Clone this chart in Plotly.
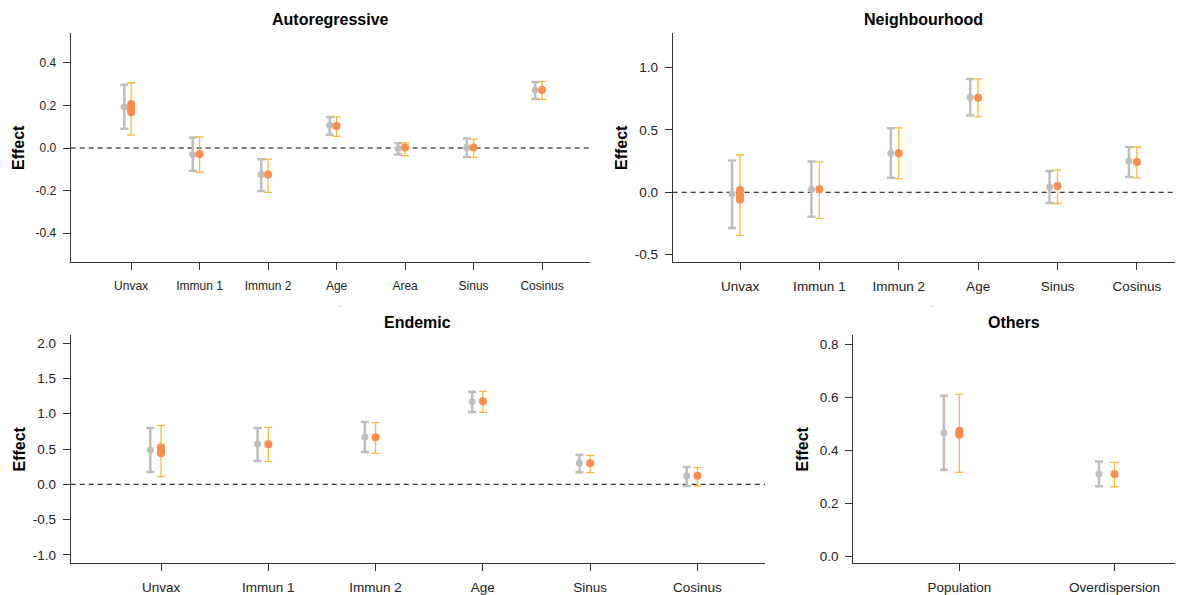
import plotly.graph_objects as go

W, H = 1187, 595

# ---------------- data ----------------
ar_cats = ["Unvax", "Immun 1", "Immun 2", "Age", "Area", "Sinus", "Cosinus"]
ar_gray_est = [0.193, -0.030, -0.125, 0.107, -0.002, 0.002, 0.273]
ar_gray_lo = [0.091, -0.107, -0.202, 0.063, -0.030, -0.042, 0.231]
ar_gray_hi = [0.298, 0.050, -0.053, 0.146, 0.022, 0.045, 0.311]
ar_or_est = [0.190, -0.028, -0.125, 0.104, 0.002, 0.002, 0.273]
ar_or_lo = [0.061, -0.114, -0.209, 0.055, -0.036, -0.044, 0.229]
ar_or_hi = [0.307, 0.052, -0.052, 0.147, 0.024, 0.042, 0.312]
ar_extra_cat = ["Unvax", "Unvax", "Unvax"]
ar_extra_val = [0.207, 0.176, 0.168]
ar_yticks = [-0.4, -0.2, 0.0, 0.2, 0.4]
ar_yticktext = ["-0.4", "-0.2", "0.0", "0.2", "0.4"]

nb_cats = ["Unvax", "Immun 1", "Immun 2", "Age", "Sinus", "Cosinus"]
nb_gray_est = [-0.014, 0.024, 0.313, 0.762, 0.043, 0.250]
nb_gray_lo = [-0.287, -0.196, 0.117, 0.615, -0.086, 0.123]
nb_gray_hi = [0.254, 0.246, 0.514, 0.909, 0.170, 0.363]
nb_or_est = [-0.020, 0.024, 0.313, 0.757, 0.050, 0.243]
nb_or_lo = [-0.345, -0.209, 0.107, 0.604, -0.090, 0.115]
nb_or_hi = [0.299, 0.241, 0.516, 0.909, 0.178, 0.363]
nb_extra_cat = ["Unvax", "Unvax", "Unvax"]
nb_extra_val = [0.018, -0.045, -0.060]
nb_yticks = [-0.5, 0.0, 0.5, 1.0]
nb_yticktext = ["-0.5", "0.0", "0.5", "1.0"]

en_cats = ["Unvax", "Immun 1", "Immun 2", "Age", "Sinus", "Cosinus"]
en_gray_est = [0.486, 0.571, 0.670, 1.170, 0.302, 0.118]
en_gray_lo = [0.174, 0.330, 0.457, 1.024, 0.170, -0.024]
en_gray_hi = [0.797, 0.797, 0.882, 1.312, 0.419, 0.245]
en_or_est = [0.480, 0.567, 0.666, 1.176, 0.297, 0.122]
en_or_lo = [0.108, 0.320, 0.439, 1.020, 0.164, -0.024]
en_or_hi = [0.836, 0.807, 0.873, 1.317, 0.411, 0.235]
en_extra_cat = ["Unvax", "Unvax"]
en_extra_val = [0.525, 0.440]
en_yticks = [-1.0, -0.5, 0.0, 0.5, 1.0, 1.5, 2.0]
en_yticktext = ["-1.0", "-0.5", "0.0", "0.5", "1.0", "1.5", "2.0"]

ot_cats = ["Population", "Overdispersion"]
ot_gray_est = [0.466, 0.310]
ot_gray_lo = [0.325, 0.264]
ot_gray_hi = [0.606, 0.357]
ot_or_est = [0.465, 0.310]
ot_or_lo = [0.316, 0.262]
ot_or_hi = [0.611, 0.354]
ot_extra_cat = ["Population", "Population"]
ot_extra_val = [0.473, 0.458]
ot_yticks = [0.0, 0.2, 0.4, 0.6, 0.8]
ot_yticktext = ["0.0", "0.2", "0.4", "0.6", "0.8"]

# ---------------- styles ----------------
GRAY = "#BEBEBE"
OR_BAR = "rgba(255,170,20,0.85)"
OR_PT = "#FF8C4A"
AX = "#333333"
TXT = "#222222"
FONT = "Liberation Sans, Arial, sans-serif"
GRAY_OFF = -0.1

panels = [
    dict(title="Autoregressive", cats=ar_cats, g=(ar_gray_est, ar_gray_lo, ar_gray_hi),
         o=(ar_or_est, ar_or_lo, ar_or_hi), ex=(ar_extra_cat, ar_extra_val),
         yt=(ar_yticks, ar_yticktext), yr=[-0.536, 0.541], xr=[0.118, 7.70],
         px=(70.7, 590), py=(33, 262), ylab_x=18.5, zero=True, dot=336, fs=12),
    dict(title="Neighbourhood", cats=nb_cats, g=(nb_gray_est, nb_gray_lo, nb_gray_hi),
         o=(nb_or_est, nb_or_lo, nb_or_hi), ex=(nb_extra_cat, nb_extra_val),
         yt=(nb_yticks, nb_yticktext), yr=[-0.559, 1.277], xr=[0.152, 6.48],
         px=(672.7, 1175), py=(33, 262), ylab_x=621.5, zero=True, dot=935, fs=13.5),
    dict(title="Endemic", cats=en_cats, g=(en_gray_est, en_gray_lo, en_gray_hi),
         o=(en_or_est, en_or_lo, en_or_hi), ex=(en_extra_cat, en_extra_val),
         yt=(en_yticks, en_yticktext), yr=[-1.115, 2.115], xr=[0.158, 6.63],
         px=(70.7, 765), py=(335, 563), ylab_x=18.5, zero=True, dot=None, fs=13.5),
    dict(title="Others", cats=ot_cats, g=(ot_gray_est, ot_gray_lo, ot_gray_hi),
         o=(ot_or_est, ot_or_lo, ot_or_hi), ex=(ot_extra_cat, ot_extra_val),
         yt=(ot_yticks, ot_yticktext), yr=[-0.026, 0.835], xr=[0.316, 2.39],
         px=(853.3, 1175), py=(335, 563), ylab_x=801.5, zero=False, dot=None, fs=13.5),
]

fig = go.Figure()
layout = dict(width=W, height=H, margin=dict(l=0, r=0, t=0, b=0),
              paper_bgcolor="white", plot_bgcolor="white", showlegend=False,
              font=dict(family=FONT, color=TXT), annotations=[], shapes=[])

for i, p in enumerate(panels, start=1):
    sfx = "" if i == 1 else str(i)
    xa, ya = "x" + sfx, "y" + sfx
    pos = {c: k + 1 for k, c in enumerate(p["cats"])}
    xs = [pos[c] for c in p["cats"]]
    ge, gl, gh = p["g"]
    oe, ol, oh = p["o"]
    fig.add_trace(go.Scatter(
        x=[v + GRAY_OFF for v in xs], y=ge, mode="markers", xaxis=xa, yaxis=ya,
        marker=dict(color=GRAY, size=7),
        error_y=dict(type="data", symmetric=False,
                     array=[h - e for h, e in zip(gh, ge)],
                     arrayminus=[e - l for e, l in zip(ge, gl)],
                     color=GRAY, thickness=2.5, width=4)))
    fig.add_trace(go.Scatter(
        x=xs, y=oe, mode="markers", xaxis=xa, yaxis=ya,
        marker=dict(color=OR_PT, size=8),
        error_y=dict(type="data", symmetric=False,
                     array=[h - e for h, e in zip(oh, oe)],
                     arrayminus=[e - l for e, l in zip(oe, ol)],
                     color=OR_BAR, thickness=1.3, width=4)))
    ec, ev = p["ex"]
    fig.add_trace(go.Scatter(
        x=[pos[c] for c in ec], y=ev, mode="markers", xaxis=xa, yaxis=ya,
        marker=dict(color=OR_PT, size=8)))

    xd = [p["px"][0] / W, p["px"][1] / W]
    yd = [1 - p["py"][1] / H, 1 - p["py"][0] / H]
    axis_common = dict(showline=True, linecolor=AX, linewidth=1, ticks="outside",
                       ticklen=7, tickcolor=AX, tickwidth=1, showgrid=False,
                       zeroline=False,
                       tickfont=dict(size=p["fs"], color=TXT, family=FONT))
    layout["xaxis" + sfx] = dict(domain=xd, range=p["xr"], anchor=ya,
                                 tickvals=xs, ticktext=p["cats"],
                                 ticklabelstandoff=6 if p["fs"] == 12 else 5,
                                 **axis_common)
    layout["yaxis" + sfx] = dict(domain=yd, range=p["yr"], anchor=xa,
                                 tickvals=p["yt"][0], ticktext=p["yt"][1],
                                 ticklabelstandoff=4, **axis_common)
    # title
    layout["annotations"].append(dict(
        text="<b>" + p["title"] + "</b>", xref="paper", yref="paper",
        x=(xd[0] + xd[1]) / 2, y=1 - (p["py"][0] - 13) / H,
        xanchor="center", yanchor="middle", showarrow=False,
        font=dict(size=16, color="black", family=FONT)))
    # y label
    layout["annotations"].append(dict(
        text="<b>Effect</b>", xref="paper", yref="paper", textangle=-90,
        x=p["ylab_x"] / W, y=(yd[0] + yd[1]) / 2,
        xanchor="center", yanchor="middle", showarrow=False,
        font=dict(size=16, color="black", family=FONT)))
    if p["dot"] is not None:
        layout["annotations"].append(dict(
            text=".", xref="paper", yref="paper", x=p["dot"] / W,
            y=1 - (p["py"][1] + 42) / H, showarrow=False,
            font=dict(size=9, color="#888")))
    if p["zero"]:
        layout["shapes"].append(dict(
            type="line", xref=xa + " domain", yref=ya, x0=0, x1=1, y0=0, y1=0,
            line=dict(color="black", width=1, dash="5px,4px"), layer="below"))

fig.update_layout(**layout)
fig.write_html("out.html")
